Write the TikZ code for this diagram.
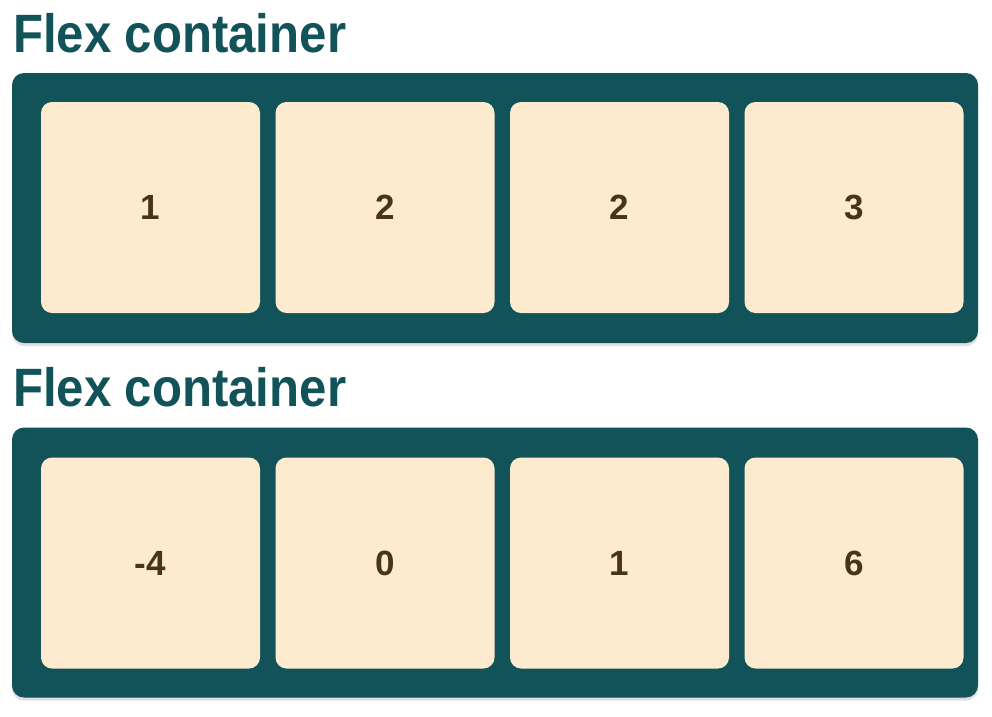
\documentclass[tikz,border=0pt]{standalone}
\usepackage{fontspec}
\setmainfont{Liberation Sans}
\newfontfamily\titlefont{Liberation Sans}[FakeStretch=0.91]
\usetikzlibrary{shadows}
\definecolor{teal}{HTML}{115358}
\definecolor{cream}{HTML}{FDEBD0}
\definecolor{brown}{HTML}{4A3418}
\tikzset{
  container/.style={fill=teal, draw=none, rounded corners=12pt, minimum width=966pt, minimum height=270pt, inner sep=0pt, outer sep=0pt,
    drop shadow={opacity=0.25, shadow xshift=0pt, shadow yshift=-3pt}},
  item/.style={fill=cream, draw=none, rounded corners=11pt, minimum width=219pt, minimum height=211pt, inner sep=0pt, outer sep=0pt,
    text=brown, font=\fontsize{35}{40}\selectfont\bfseries},
  title/.style={anchor=base west, inner sep=0pt, outer sep=0pt, text=teal, font=\titlefont\fontsize{54}{60}\selectfont\bfseries}
}
\begin{document}
\begin{tikzpicture}[x=1pt,y=-1pt]
\useasboundingbox[fill=white] (0,0) rectangle (992,716);
\node[title] (t1) at (13,52) {Flex container};
\node[title] (t2) at (13,406) {Flex container};
\node[container] (c1) at (495,208) {};
\node[container] (c2) at (495,562.5) {};
\node[item] (a1) at (150.5,207.5) {1};
\node[item] (a2) at (385,207.5) {2};
\node[item] (a3) at (619.5,207.5) {2};
\node[item] (a4) at (854,207.5) {3};
\node[item] (b1) at (150.5,563) {-4};
\node[item] (b2) at (385,563) {0};
\node[item] (b3) at (619.5,563) {1};
\node[item] (b4) at (854,563) {6};
\end{tikzpicture}
\end{document}
